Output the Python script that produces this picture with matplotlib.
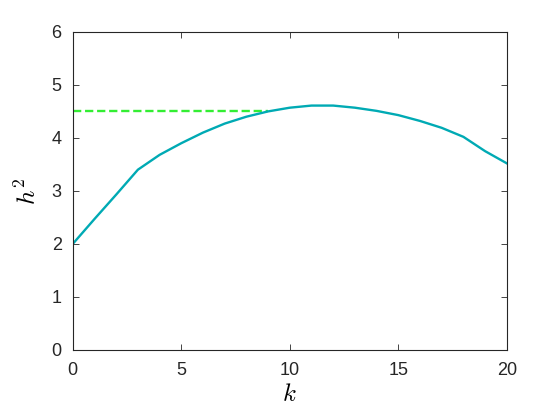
import matplotlib
matplotlib.use("Agg")
import matplotlib.pyplot as plt

plt.rcParams['font.family'] = ['Liberation Sans', 'DejaVu Sans']
plt.rcParams['mathtext.fontset'] = 'cm'

# values
k = list(range(0, 21))
h2 = [2.0, 2.47, 2.93, 3.4, 3.68, 3.9, 4.1, 4.27, 4.4, 4.5, 4.57,
      4.61, 4.61, 4.57, 4.51, 4.43, 4.32, 4.19, 4.02, 3.75, 3.52]
ref_k = [0, 9]
ref_h2 = [4.5, 4.5]

fig = plt.figure(figsize=(5.6, 4.2), dpi=100)
ax = fig.add_axes([0.13, 0.167, 0.775, 0.757])

ax.plot(ref_k, ref_h2, '--', color='#33ee33', linewidth=1.7, dashes=(3.5, 1.6))
ax.plot(k, h2, '-', color='#00aab4', linewidth=1.7)

ax.set_xlim(0, 20)
ax.set_ylim(0, 6)
ax.set_xticks([0, 5, 10, 15, 20])
ax.set_yticks([0, 1, 2, 3, 4, 5, 6])
ax.tick_params(direction='in', top=True, right=True, labelsize=13,
               colors='#262626', length=4, width=0.6)
ax.tick_params(axis='x', pad=9)
ax.tick_params(axis='y', pad=8)
for s in ax.spines.values():
    s.set_linewidth(0.8)
    s.set_color('#262626')

ax.set_xlabel('$k$', fontsize=18, labelpad=2)
ax.set_ylabel('$h^2$', fontsize=18, labelpad=8)

fig.savefig('out.png', dpi=100)
